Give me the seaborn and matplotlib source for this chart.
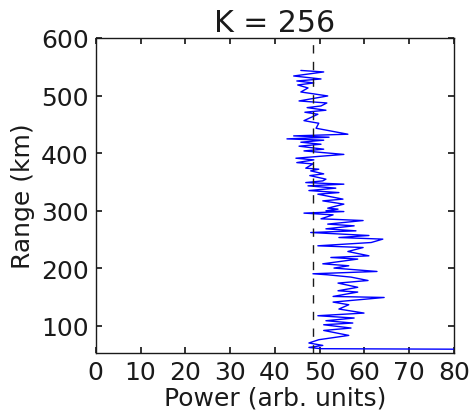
import numpy as np
import pandas as pd
import matplotlib
matplotlib.use("Agg")
import matplotlib.pyplot as plt
import seaborn as sns

# valeurs (puissance vs distance)
range_km = [543.6, 541.0, 534.0, 528.8, 525.3, 521.9, 518.4, 513.2, 506.2, 499.3,
            490.6, 487.1, 481.9, 479.0, 474.5, 471.0, 467.5, 456.4, 453.6, 451.9,
            443.2, 432.8, 429.9, 427.6, 424.7, 422.4, 418.9, 415.4, 412.0, 406.8,
            403.8, 397.7, 391.1, 388.2, 383.5, 381.2, 373.8, 372.0, 369.1, 363.9,
            360.9, 354.7, 351.7, 348.8, 346.0, 343.1, 339.1, 334.9, 331.4, 328.6,
            320.0, 317.0, 311.3, 304.3, 302.6, 299.7, 298.4, 295.7, 292.7, 285.8,
            282.8, 276.6, 273.6, 268.4, 264.9, 262.0, 256.8, 253.3, 250.5, 244.6,
            238.9, 235.9, 229.0, 221.5, 218.6, 215.8, 207.6, 204.2, 200.2, 194.3,
            190.3, 188.5, 184.5, 178.6, 174.1, 166.8, 160.8, 158.5, 150.9, 149.1,
            141.1, 136.5, 129.0, 122.0, 117.4, 113.4, 108.7, 104.7, 101.7, 96.0,
            91.8, 83.2, 75.7, 70.0, 65.8, 62.3, 60.1, 58.8]
power = [45.8, 50.9, 44.2, 50.3, 44.9, 48.7, 45.1, 47.4, 45.8, 51.8,
         45.4, 51.6, 50.3, 47.2, 51.4, 46.7, 49.6, 46.5, 48.5, 49.8,
         49.2, 56.3, 44.2, 52.1, 42.7, 50.9, 45.8, 50.3, 45.4, 50.9,
         46.5, 55.4, 44.7, 48.7, 44.9, 48.5, 46.9, 49.8, 48.0, 50.9,
         47.8, 51.4, 50.7, 46.9, 55.4, 47.4, 53.6, 47.6, 54.3, 49.6,
         55.2, 50.7, 55.4, 51.8, 54.1, 51.4, 55.4, 46.5, 53.0, 50.3,
         59.7, 51.8, 57.7, 51.4, 58.1, 48.0, 61.0, 54.3, 64.1, 61.5,
         49.6, 59.7, 56.3, 61.0, 52.5, 58.5, 50.7, 56.5, 53.2, 62.8,
         48.5, 51.8, 57.0, 60.8, 54.1, 58.5, 54.1, 58.5, 53.0, 64.4,
         53.0, 56.5, 54.3, 59.9, 49.6, 57.7, 51.4, 57.4, 50.9, 57.0,
         50.9, 56.5, 49.8, 47.6, 50.7, 47.6, 50.3, 95.0]
seuil = 48.5

df = pd.DataFrame({"Range (km)": range_km, "Power": power})

sns.set_theme(style="ticks", rc={
    "xtick.direction": "in", "ytick.direction": "in",
    "xtick.top": True, "ytick.right": True,
    "xtick.major.size": 4, "ytick.major.size": 4,
    "axes.linewidth": 1.0,
    "text.color": "k", "axes.labelcolor": "k",
    "xtick.color": "k", "ytick.color": "k", "axes.edgecolor": "k",
})
plt.rcParams["font.family"] = ["DejaVu Sans"]

fig = plt.figure(figsize=(4.72, 4.14), dpi=100)
ax = fig.add_axes([0.2028, 0.1449, 0.7591, 0.7609])
sns.lineplot(data=df, x="Power", y="Range (km)", orient="y", color="#0000ff", lw=1, ax=ax)
ax.axvline(seuil, color="k", ls=(0, (6, 6)), lw=1)
ax.set_xlim(0, 80)
ax.set_ylim(52.6, 600)
ax.set_xticks(range(0, 81, 10))
ax.set_yticks(range(100, 601, 100))
ax.tick_params(labelsize=18, pad=5)
ax.set_xlabel("Power (arb. units)", fontsize=18, labelpad=1)
ax.set_ylabel("Range (km)", fontsize=18, labelpad=4)
ax.set_title("K = 256", fontsize=21.6, pad=5)
fig.savefig("out.png", dpi=100)
